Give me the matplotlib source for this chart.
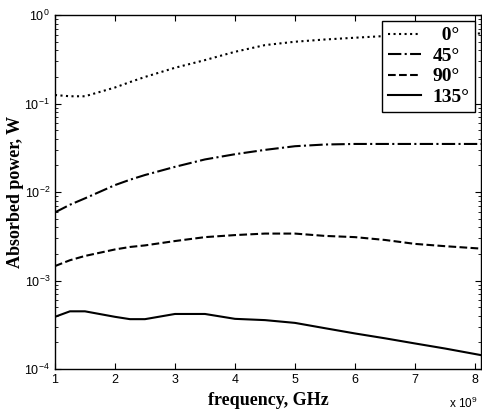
import numpy as np
import matplotlib
matplotlib.use("Agg")
import matplotlib.pyplot as plt

plt.rcParams["font.family"] = "Liberation Sans"
plt.rcParams["mathtext.fontset"] = "custom"
plt.rcParams["mathtext.rm"] = "Liberation Sans"
plt.rcParams["axes.unicode_minus"] = False

# frequency in GHz
freq = [1.0, 1.25, 1.5, 2.0, 2.25, 2.5, 3.0, 3.5, 4.0, 4.5, 5.0, 5.5, 6.0, 6.5, 7.0, 7.5, 8.1]

p_0 = [0.125, 0.121, 0.121, 0.152, 0.175, 0.20, 0.254, 0.31, 0.385, 0.458, 0.50, 0.53,
       0.555, 0.58, 0.60, 0.61, 0.62]
p_45 = [0.0059, 0.0072, 0.0085, 0.012, 0.0138, 0.0156, 0.0193, 0.0234, 0.0268, 0.030,
        0.033, 0.0345, 0.035, 0.035, 0.035, 0.035, 0.035]
p_90 = [0.00146, 0.0017, 0.0019, 0.00225, 0.0024, 0.0025, 0.0028, 0.0031, 0.00327,
        0.0034, 0.0034, 0.0032, 0.0031, 0.00288, 0.0026, 0.00245, 0.0023]
p_135 = [0.00039, 0.00045, 0.00045, 0.00039, 0.000367, 0.000367, 0.00042, 0.00042,
         0.00037, 0.000358, 0.000333, 0.00029, 0.000253, 0.000223, 0.000195, 0.000171,
         0.000144]

labels = ["  0°", "45°", "90°", "135°"]
styles = [":", "-.", "--", "-"]

fig = plt.figure(figsize=(4.82, 4.19), dpi=100)
ax = fig.add_axes([0.114, 0.119, 0.884, 0.845])

for y, ls, lab in zip([p_0, p_45, p_90, p_135], styles, labels):
    ax.semilogy(freq, y, color="k", linestyle=ls, linewidth=1.5, label=lab)

ax.set_xlim(1, 8.1)
ax.set_ylim(1e-4, 1)
ax.set_xticks(range(1, 9))
ax.tick_params(which="both", direction="in", top=True, right=True, labelsize=9)
ax.tick_params(which="major", length=4)
ax.tick_params(which="minor", length=2)
for s in ax.spines.values():
    s.set_linewidth(1.0)

serif_bold = {"family": "Liberation Serif", "weight": "bold", "size": 13}
ax.set_xlabel("frequency, GHz", fontdict=serif_bold, labelpad=4)
ax.set_ylabel("Absorbed power, W", fontdict=serif_bold, labelpad=0)
fig.text(0.932, 0.027, r"x 10$^{9}$", fontsize=8.5)

leg = ax.legend(loc="upper right", prop={"family": "Liberation Serif", "weight": "bold", "size": 14},
                fancybox=False, edgecolor="k", framealpha=1, handlelength=1.7,
                labelspacing=0.15, borderaxespad=0.3, handletextpad=0.6,
                borderpad=0.3)
leg.get_frame().set_linewidth(1.0)

fig.savefig("out.png", dpi=100)
